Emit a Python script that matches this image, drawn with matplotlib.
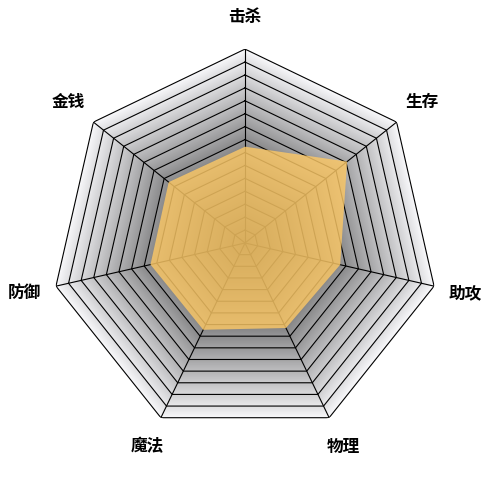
import matplotlib
matplotlib.use("Agg")
import matplotlib.pyplot as plt
import numpy as np

plt.rcParams['font.family'] = ['Noto Sans CJK SC', 'DejaVu Sans']

# data
labels = ["击杀", "生存", "助攻", "物理", "魔法", "防御", "金钱"]
values = [7.45, 10.1, 7.55, 7.3, 7.45, 7.5, 7.55]
r_max = 15
levels = list(range(1, r_max + 1))

n = len(labels)
theta = np.linspace(0, 2 * np.pi, n, endpoint=False)
theta_c = np.append(theta, theta[0])

fig = plt.figure(figsize=(4.92, 4.86), dpi=100)
ax = fig.add_axes([0.498 - 0.3943, 0.5 - 0.399, 0.7886, 0.798], projection="polar")
ax.set_theta_offset(np.pi / 2)
ax.set_theta_direction(-1)
ax.set_ylim(0, r_max)
ax.grid(False)
ax.spines["polar"].set_visible(False)
ax.set_xticks([])
ax.set_yticks([])
ax.patch.set_alpha(0)


def gray(r):
    # overall darker toward the centre, each band a bit darker at its inner edge
    base = 0.28 + 0.69 * (r / r_max) ** 1.3
    frac = r - np.floor(r - 1e-9)
    return np.clip(base - 0.045 * (1 - frac), 0, 1)


# shaded bands, painted from the outside in
for r in np.arange(r_max, 0, -0.1):
    g = gray(r)
    ax.fill(theta_c, [r] * (n + 1), color=(g, g, min(g * 1.01, 1)),
            lw=0, zorder=1)

# ring lines and spokes
for lv in levels:
    ax.plot(theta_c, [lv] * (n + 1), color="black", lw=0.8, zorder=2)
for t in theta:
    ax.plot([t, t], [0, r_max], color="black", lw=0.8, zorder=2)

# data polygon
vals = values + values[:1]
ax.fill(theta_c, vals, color="#FCC866", alpha=0.82, lw=0, zorder=3)

# labels
for t, lab in zip(theta, labels):
    ax.text(t, r_max * 1.165, lab, ha="center", va="center",
            fontsize=12, fontweight="bold", color="black")

fig.savefig("out.png", dpi=100)
